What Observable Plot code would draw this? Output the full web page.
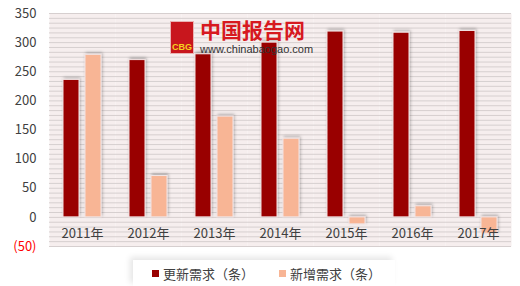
<!DOCTYPE html>
<html><head><meta charset="utf-8">
<script src="https://cdn.jsdelivr.net/npm/d3@7"></script>
<script src="https://cdn.jsdelivr.net/npm/@observablehq/plot@0.6"></script>
<style>
body{margin:0;background:#fff;font-family:"Noto Sans CJK SC","Liberation Sans",sans-serif;}
#wrap{position:relative;width:520px;height:286px;overflow:hidden;}
#logo{position:absolute;left:170px;top:21px;width:24px;height:33px;background:#c8161d;border:1px solid #e9b3b3;color:#f5d020;font:bold 9px "Liberation Sans",sans-serif;text-align:center;box-sizing:border-box;padding-top:20px;}
#brand{position:absolute;left:200px;top:17px;color:#d7191f;font:bold 21px "Noto Sans CJK SC",sans-serif;letter-spacing:0px;line-height:24px;}
#url{position:absolute;left:200px;top:43px;color:#333;font:11px "Liberation Sans",sans-serif;line-height:12px;}
#legend{margin-left:133px;width:262px;height:26px;display:flex;align-items:center;background:#fff;box-shadow:-3px -3px 6px rgba(0,0,0,0.10);font-size:13px;color:#404040;}
.sw{display:inline-block;width:7px;height:7px;margin-right:4px;}
.item{display:flex;align-items:center;}
</style></head><body>
<div id="wrap">
<div id="chart"></div>
<div id="legend"></div>
<div id="logo">CBG</div>
<div id="brand">中国报告网</div>
<div id="url">www.chinabaogao.com</div>
</div>
<script>
const years = ["2011年","2012年","2013年","2014年","2015年","2016年","2017年"];
const seriesNames = ["更新需求（条）","新增需求（条）"];
const renewDemand = [236, 270, 280, 300, 319, 317, 320];
const newDemand = [279, 71, 173, 135, -12, 19, -28];
const yTicks = [-50, 0, 50, 100, 150, 200, 250, 300, 350];
const seriesColors = ["#990000", "#f8b595"];

const data = years.flatMap((y, i) => [
  {year: y, series: seriesNames[0], value: renewDemand[i]},
  {year: y, series: seriesNames[1], value: newDemand[i]}
]);
const stripes = d3.range(-50, 350 + 1e-6, 50 / 6);

const chart = Plot.plot({
  width: 520, height: 260,
  marginLeft: 47, marginRight: 8, marginTop: 13, marginBottom: 14,
  style: {fontFamily: "'Noto Sans CJK SC','Liberation Sans',sans-serif", fontSize: "13px", color: "#404040", background: "transparent"},
  fx: {domain: years, padding: 0, label: null, axis: null},
  x: {domain: seriesNames, paddingInner: 0.26, paddingOuter: 0.565, axis: null},
  y: {domain: [-50, 350], ticks: yTicks, tickFormat: d => d < 0 ? `(${-d})` : `${d}`, tickSize: 0, tickPadding: 13, label: null},
  color: {domain: seriesNames, range: seriesColors},
  marks: [
    Plot.frame({fill: "#f6eeee", stroke: null}),
    Plot.ruleY(stripes, {stroke: "#d6cfcf", strokeWidth: 1}),
    Plot.barY(data, {fx: "year", x: "series", y: "value", fill: "series", stroke: "#f2e4e4", strokeWidth: 1}),
    Plot.axisFx({anchor: "bottom", tickSize: 0, tickPadding: -18, label: null, fill: "#404040"})
  ]
});
document.getElementById("chart").appendChild(chart);

// drop shadow filter for bars
const ns = "http://www.w3.org/2000/svg";
const defs = document.createElementNS(ns, "defs");
defs.innerHTML = '<filter id="sh" x="-30%" y="-10%" width="160%" height="130%"><feDropShadow dx="1" dy="-1.5" stdDeviation="1.5" flood-color="#000" flood-opacity="0.28"/></filter>';
chart.insertBefore(defs, chart.firstChild);
chart.querySelectorAll('g[aria-label="bar"]').forEach(g => g.setAttribute("filter", "url(#sh)"));
chart.querySelectorAll('g[aria-label="y-axis tick label"] text').forEach(t => {
  if (t.textContent.startsWith("(")) t.setAttribute("fill", "#ff0000");
});

const legend = document.getElementById("legend");
seriesNames.forEach((s, i) => {
  const it = document.createElement("span");
  it.className = "item";
  it.style.marginLeft = i === 0 ? "19px" : "25px";
  it.innerHTML = `<span class="sw" style="background:${seriesColors[i]}"></span>${s}`;
  legend.appendChild(it);
});
</script>
</body></html>
